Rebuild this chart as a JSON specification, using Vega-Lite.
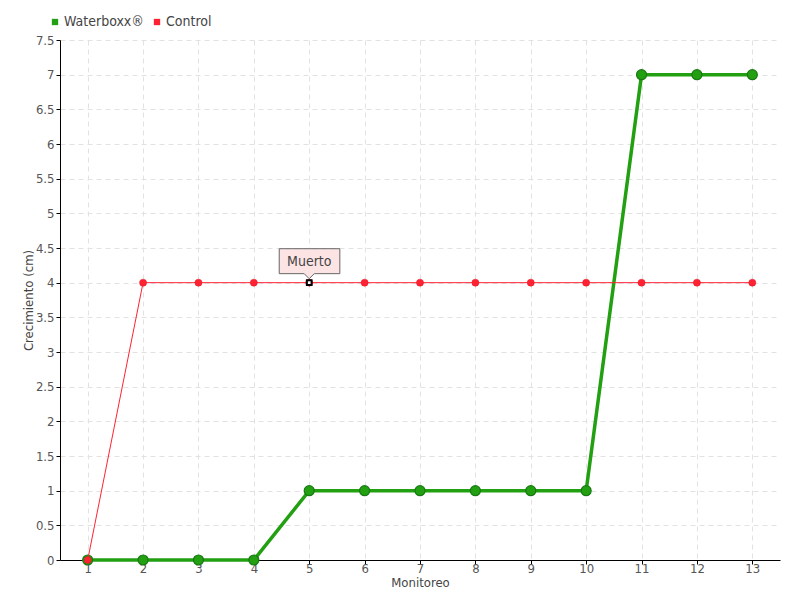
{
  "$schema": "https://vega.github.io/schema/vega-lite/v6.json",
  "width": 720,
  "height": 520,
  "autosize": {"type": "none"},
  "padding": {"left": 60, "top": 40, "right": 20, "bottom": 40},
  "background": "white",
  "config": {
    "font": "Liberation Sans Narrow, DejaVu Sans Condensed, sans-serif",
    "view": {"stroke": null},
    "axis": {
      "domainColor": "#000000",
      "tickColor": "#000000",
      "tickSize": 4,
      "labelColor": "#555555",
      "labelFontSize": 14,
      "titleColor": "#444444",
      "titleFontSize": 13,
      "titleFontWeight": "normal",
      "gridColor": "#e2e2e2",
      "gridDash": [5, 4],
      "gridWidth": 1
    }
  },
  "datasets": {
    "series": [
      {"monitoreo": 1, "serie": "Waterboxx®", "valor": 0},
      {"monitoreo": 2, "serie": "Waterboxx®", "valor": 0},
      {"monitoreo": 3, "serie": "Waterboxx®", "valor": 0},
      {"monitoreo": 4, "serie": "Waterboxx®", "valor": 0},
      {"monitoreo": 5, "serie": "Waterboxx®", "valor": 1},
      {"monitoreo": 6, "serie": "Waterboxx®", "valor": 1},
      {"monitoreo": 7, "serie": "Waterboxx®", "valor": 1},
      {"monitoreo": 8, "serie": "Waterboxx®", "valor": 1},
      {"monitoreo": 9, "serie": "Waterboxx®", "valor": 1},
      {"monitoreo": 10, "serie": "Waterboxx®", "valor": 1},
      {"monitoreo": 11, "serie": "Waterboxx®", "valor": 7},
      {"monitoreo": 12, "serie": "Waterboxx®", "valor": 7},
      {"monitoreo": 13, "serie": "Waterboxx®", "valor": 7},
      {"monitoreo": 1, "serie": "Control", "valor": 0},
      {"monitoreo": 2, "serie": "Control", "valor": 4},
      {"monitoreo": 3, "serie": "Control", "valor": 4},
      {"monitoreo": 4, "serie": "Control", "valor": 4},
      {"monitoreo": 5, "serie": "Control", "valor": 4},
      {"monitoreo": 6, "serie": "Control", "valor": 4},
      {"monitoreo": 7, "serie": "Control", "valor": 4},
      {"monitoreo": 8, "serie": "Control", "valor": 4},
      {"monitoreo": 9, "serie": "Control", "valor": 4},
      {"monitoreo": 10, "serie": "Control", "valor": 4},
      {"monitoreo": 11, "serie": "Control", "valor": 4},
      {"monitoreo": 12, "serie": "Control", "valor": 4},
      {"monitoreo": 13, "serie": "Control", "valor": 4}
    ],
    "notas": [
      {"monitoreo": 5, "valor": 4, "nota": "Muerto"}
    ]
  },
  "data": {"name": "series"},
  "encoding": {
    "x": {
      "field": "monitoreo",
      "type": "quantitative",
      "scale": {"domain": [0.5, 13.5], "nice": false, "zero": false},
      "axis": {
        "title": "Monitoreo",
        "values": [1, 2, 3, 4, 5, 6, 7, 8, 9, 10, 11, 12, 13],
        "format": "d",
        "labelPadding": -2,
        "labelFontSize": 13,
        "titlePadding": 1,
        "grid": true
      }
    },
    "y": {
      "field": "valor",
      "type": "quantitative",
      "scale": {"domain": [0, 7.5], "nice": false},
      "axis": {
        "title": "Crecimiento (cm)",
        "values": [0, 0.5, 1, 1.5, 2, 2.5, 3, 3.5, 4, 4.5, 5, 5.5, 6, 6.5, 7, 7.5],
        "format": "~g",
        "labelPadding": 2,
        "labelFontSize": 13,
        "titlePadding": 0,
        "grid": true
      }
    }
  },
  "layer": [
    {
      "transform": [{"filter": "datum.serie === 'Waterboxx®'"}],
      "mark": {"type": "line", "strokeWidth": 3.5},
      "encoding": {
        "color": {
          "field": "serie",
          "type": "nominal",
          "scale": {"domain": ["Waterboxx®", "Control"], "range": ["#22a012", "#ff2233"]},
          "legend": {
            "title": null,
            "orient": "none",
            "direction": "horizontal",
            "legendX": -12,
            "legendY": -25,
            "symbolType": "square",
            "symbolSize": 40,
            "symbolStrokeWidth": 0,
            "labelFontSize": 14,
            "labelColor": "#444444",
            "columnPadding": 6,
            "labelOffset": 2
          }
        }
      }
    },
    {
      "transform": [{"filter": "datum.serie === 'Waterboxx®'"}],
      "mark": {"type": "point", "filled": true, "size": 100, "stroke": "#177a12", "strokeWidth": 1.2, "opacity": 1},
      "encoding": {"fill": {"field": "serie", "type": "nominal", "scale": {"domain": ["Waterboxx®", "Control"], "range": ["#22a012", "#ff2233"]}, "legend": null}}
    },
    {
      "transform": [{"filter": "datum.serie === 'Control'"}],
      "mark": {"type": "line", "strokeWidth": 1},
      "encoding": {"color": {"field": "serie", "type": "nominal"}}
    },
    {
      "transform": [{"filter": "datum.serie === 'Control'"}],
      "mark": {"type": "point", "filled": true, "size": 50, "opacity": 1, "stroke": "#e01020", "strokeWidth": 0.5},
      "encoding": {"fill": {"field": "serie", "type": "nominal", "legend": null}}
    },
    {
      "data": {"name": "notas"},
      "mark": {"type": "point", "shape": "square", "size": 22, "filled": true, "fill": "white", "stroke": "black", "strokeWidth": 2, "opacity": 1}
    },
    {
      "data": {"name": "notas"},
      "mark": {
        "type": "point",
        "shape": "M-2.5,-2.83L2.55,-2.83L2.55,-0.75L0.42,-0.75L0,-0.33L-0.42,-0.75L-2.5,-0.75Z",
        "size": 576,
        "filled": true,
        "fill": "#fde4e4",
        "stroke": "#666666",
        "strokeWidth": 1,
        "opacity": 1
      }
    },
    {
      "data": {"name": "notas"},
      "mark": {"type": "text", "dy": -21, "fontSize": 14, "color": "#444444", "align": "center", "baseline": "middle"},
      "encoding": {"text": {"field": "nota"}}
    }
  ]
}
